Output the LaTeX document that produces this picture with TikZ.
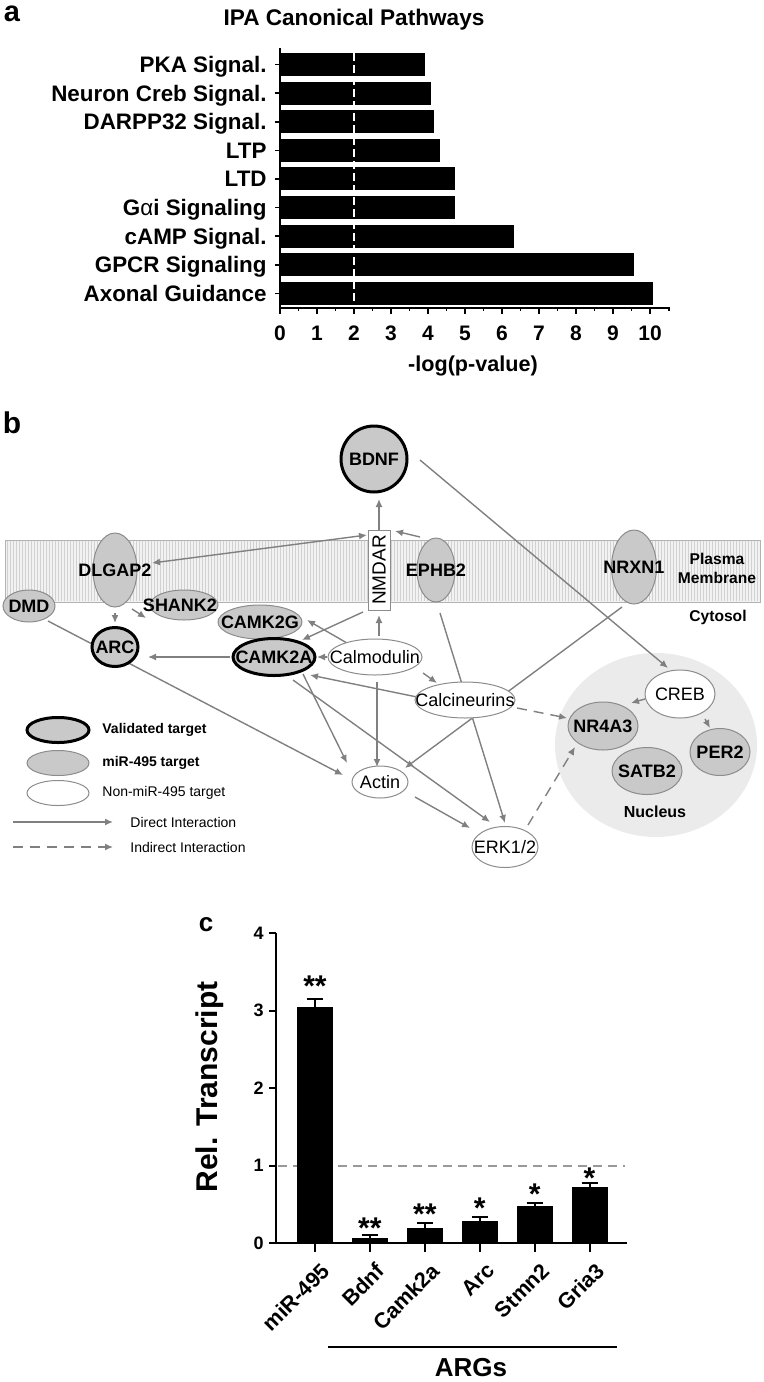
\documentclass[tikz,border=0pt]{standalone}
\usepackage{fontspec}
\setmainfont{Liberation Sans}
\usetikzlibrary{shapes.geometric,arrows.meta,calc}
\pgfdeclarelayer{back}
\pgfdeclarelayer{edge}
\pgfsetlayers{back,edge,main}
\tikzset{
  gene/.style={ellipse, draw=black!45, line width=0.5pt, fill=black!21, inner sep=0pt},
  valid/.style={ellipse, draw=black, line width=1.5pt, fill=black!21, inner sep=0pt},
  plain/.style={ellipse, draw=black!45, line width=0.5pt, fill=white, inner sep=0pt},
  glab/.style={font=\bfseries\fontsize{9}{9}\selectfont, inner sep=0pt},
  plab/.style={font=\fontsize{9}{9}\selectfont, inner sep=0pt},
  conn/.style={draw=black!50, line width=0.7pt, -{Latex[length=4pt,width=3.5pt]}},
  iconn/.style={conn, dash pattern=on 5pt off 3.5pt},
  lgtext/.style={anchor=west, inner sep=0pt, font=\fontsize{7}{7}\selectfont},
  sidetext/.style={inner sep=0pt, font=\bfseries\fontsize{7.8}{7.8}\selectfont},
  panel/.style={inner sep=0pt, font=\bfseries\fontsize{14.5}{14.5}\selectfont},
  rowlab/.style={anchor=base east, inner sep=0pt, font=\bfseries\fontsize{11.2}{11.2}\selectfont},
  ticklab/.style={anchor=base, inner sep=0pt, font=\bfseries\fontsize{10.5}{10.5}\selectfont},
  ctick/.style={anchor=east, inner sep=0pt, font=\bfseries\fontsize{9}{9}\selectfont},
  xlab/.style={anchor=east, rotate=45, inner sep=0pt, font=\bfseries\fontsize{10.8}{10.8}\selectfont},
  star/.style={anchor=base, inner sep=0pt, font=\bfseries\fontsize{15}{15}\selectfont},
}
\begin{document}
\begin{tikzpicture}[x=0.5pt,y=-0.5pt]
\useasboundingbox (0,0) rectangle (764,1382);

% ================= Panel a =================
\node[panel] (pa) at (12,14) {a};
\node[inner sep=0pt, font=\bfseries\fontsize{11.3}{11.3}\selectfont] (atitle) at (354,20) {IPA Canonical Pathways};
\foreach \v/\t [count=\i from 0] in {3.92/PKA Signal., 4.08/Neuron Creb Signal., 4.15/DARPP32 Signal., 4.32/LTP, 4.72/LTD, 4.72/G{\mdseries α}i Signaling, 6.32/cAMP Signal., 9.57/GPCR Signaling, 10.08/Axonal Guidance}{
  \fill[black] (281,{64.5+28.6*\i-11.5}) rectangle ({280+37*\v},{64.5+28.6*\i+11.5});
  \draw[line width=0.8pt] (275,{64.5+28.6*\i}) -- (280,{64.5+28.6*\i});
  \node[rowlab] (arow\i) at (267,{64.5+28.6*\i+8}) {\t};
}
\draw[white, line width=1pt, dash pattern=on 4pt off 2pt] (354,53) -- (354,306);
\draw[line width=1pt] (280,48) -- (280,308) -- (670,308);
\foreach \k in {0,...,10}{
  \draw[line width=0.8pt] ({280+37*\k},308) -- ({280+37*\k},314);
  \node[ticklab] (ax\k) at ({280+37*\k},340.5) {\k};
}
\foreach \k in {0,...,9}{
  \draw[line width=0.8pt] ({280+37*\k+18.5},308) -- ({280+37*\k+18.5},311);
}
\draw[line width=0.8pt] (669,308) -- (669,311);
\node[anchor=base, inner sep=0pt, font=\bfseries\fontsize{10.8}{10.8}\selectfont] (axlab) at (473,371) {-log(p-value)};

% ================= Panel b =================
\node[panel, font=\bfseries\fontsize{15}{15}\selectfont] (pb) at (12,423) {b};

% membrane
\begin{pgfonlayer}{back}
\fill[black!5] (5,540) rectangle (760,602);
\foreach \i in {0,...,250}{
  \draw[black!18, line width=0.3pt] ({7+3*\i},541) -- ({7+3*\i},601);
}
\draw[black!30, line width=0.5pt] (5,540) rectangle (760,602);
\fill[black!8] (656,745) ellipse [x radius=101, y radius=92];
\end{pgfonlayer}
\node[sidetext] (plasma) at (717,559) {Plasma};
\node[sidetext] (membr) at (717,578) {Membrane};
\node[sidetext] (cyto) at (718,617) {Cytosol};
\node[sidetext, font=\bfseries\fontsize{8}{8}\selectfont] (nucl) at (655,812) {Nucleus};

% nodes
\node[valid, minimum width=33pt, minimum height=33pt, label={[glab,name=bdnft]center:BDNF}] (bdnf) at (374,459) {};
\node[gene, minimum width=22pt, minimum height=37pt, label={[glab,name=dlgap2t]center:DLGAP2}] (dlgap2) at (115,570) {};
\node[gene, minimum width=26pt, minimum height=16pt, label={[glab,name=dmdt]center:DMD}] (dmd) at (29,606) {};
\node[gene, minimum width=34pt, minimum height=15pt] (shank2) at (184,605) {};
\node[glab] (shank2t) at (180,605) {SHANK2};
\node[valid, minimum width=23pt, minimum height=19.5pt, label={[glab,name=arct]center:ARC}] (arc) at (115,647) {};
\node[gene, minimum width=42pt, minimum height=17pt, label={[glab,name=camk2gt]center:CAMK2G}] (camk2g) at (260,622) {};
\node[valid, minimum width=41pt, minimum height=18.5pt, label={[glab,name=camk2at]center:CAMK2A}] (camk2a) at (274,657) {};
\node[plain, minimum width=47pt, minimum height=18pt, label={[plab,name=calmt]center:Calmodulin}] (calm) at (375,657) {};
\node[draw=black!45, line width=0.5pt, fill=white, minimum width=11pt, minimum height=40pt, inner sep=0pt] (nmdar) at (379,570) {};
\node[plab, rotate=90, font=\fontsize{9.5}{9.5}\selectfont] (nmdart) at (379,570) {NMDAR};
\node[gene, minimum width=19pt, minimum height=32pt, label={[glab,name=ephb2t]center:EPHB2}] (ephb2) at (436,570) {};
\node[gene, minimum width=22.5pt, minimum height=37pt, label={[glab,name=nrxn1t]center:NRXN1}] (nrxn1) at (634,567) {};
\node[plain, minimum width=50pt, minimum height=18pt, label={[plab,name=calct]center:Calcineurins}] (calc) at (465,700) {};
\node[plain, minimum width=28pt, minimum height=16pt, label={[plab,name=actint]center:Actin}] (actin) at (380,782) {};
\node[plain, minimum width=33pt, minimum height=20.5pt, label={[plab,name=erkt]center:ERK1/2}] (erk) at (505,847) {};
\node[plain, minimum width=35pt, minimum height=24pt, label={[plab,name=crebt]center:CREB}] (creb) at (680,694) {};
\node[gene, minimum width=35pt, minimum height=24pt, label={[glab,name=nr4a3t]center:NR4A3}] (nr4a3) at (603,726) {};
\node[gene, minimum width=30pt, minimum height=23.5pt, label={[glab,name=per2t]center:PER2}] (per2) at (720,752) {};
\node[gene, minimum width=35pt, minimum height=23.5pt, label={[glab,name=satb2t]center:SATB2}] (satb2) at (647,771) {};

% connectors
\begin{pgfonlayer}{edge}
\draw[conn, {Latex[length=4pt,width=3.5pt]}-{Latex[length=4pt,width=3.5pt]}] ($(dlgap2)+(37,-7)$) -- ($(nmdar)+(-12,-35)$);
\draw[conn] ($(nmdar)+(0,-40)$) -- ($(bdnf)+(5,40)$);
\draw[conn] ($(ephb2)+(-16,-33)$) -- ($(nmdar)+(16,-39)$);
\draw[conn] ($(calm)+(4,-21)$) -- ($(nmdar)+(0,45)$);
\draw[conn] ($(nmdar)+(-16,42)$) -- ($(camk2a)+(28,-17)$);
\draw[conn] ($(calm)+(-28,-14)$) -- ($(camk2g)+(47,-2)$);
\draw[conn] ($(calm)+(-48,0)$) -- ($(camk2a)+(43,0)$);
\draw[conn] ($(camk2a)+(-44,0)$) -- ($(arc)+(33,10)$);
\draw[conn] ($(dlgap2)+(0,43)$) -- ($(arc)+(0,-24)$);
\draw[conn] ($(dlgap2)+(17,39)$) -- ($(shank2)+(-38,13)$);
\draw[conn] ($(dmd)+(19,15)$) -- ($(actin)+(-37,-7)$);
\draw[conn] ($(camk2a)+(29,17)$) -- ($(actin)+(-33,-19)$);
\draw[conn] ($(camk2a)+(19,23)$) -- ($(erk)+(-15,-25)$);
\draw[conn] ($(calc)+(-48,-3)$) -- ($(camk2a)+(36,18)$);
\draw[conn] ($(calm)+(2,25)$) -- ($(actin)+(-3,-15)$);
\draw[conn] ($(calm)+(48,16)$) -- ($(calc)+(-28,-17)$);
\draw[conn] ($(ephb2)+(4,43)$) -- ($(erk)+(0,-24)$);
\draw[conn] ($(nrxn1)+(-12,40)$) -- ($(actin)+(25,-14)$);
\draw[conn] ($(actin)+(35,15)$) -- ($(erk)+(-35,-19)$);
\draw[iconn] ($(calc)+(52,8)$) -- ($(nr4a3)+(-36,-8)$);
\draw[iconn] ($(erk)+(23,-22)$) -- ($(nr4a3)+(-28,21)$);
\draw[conn] ($(bdnf)+(46,1)$) -- ($(creb)+(-12,-26)$);
\draw[conn] ($(creb)+(-35,5)$) -- ($(nr4a3)+(28,-23)$);
\draw[conn] ($(creb)+(25,25)$) -- ($(per2)+(-10,-24)$);
\end{pgfonlayer}

% legend
\node[valid, minimum width=31pt, minimum height=12.5pt] (lg1) at (58,730) {};
\node[gene, minimum width=31pt, minimum height=12.5pt] (lg2) at (58,763) {};
\node[plain, minimum width=31pt, minimum height=12.5pt] (lg3) at (58,793) {};
\node[lgtext, font=\bfseries\fontsize{7}{7}\selectfont] (lt1) at (102,730) {Validated target};
\node[lgtext, font=\bfseries\fontsize{7}{7}\selectfont] (lt2) at (102,763) {miR-495 target};
\node[lgtext] (lt3) at (102,793) {Non-miR-495 target};
\coordinate (ld1a) at (13,822);
\coordinate (ld1b) at (113,822);
\coordinate (ld2a) at (13,847);
\coordinate (ld2b) at (113,847);
\draw[conn] (ld1a) -- (ld1b);
\draw[iconn] (ld2a) -- (ld2b);
\node[lgtext] (lt4) at (130,822) {Direct Interaction};
\node[lgtext] (lt5) at (130,847) {Indirect Interaction};

% ================= Panel c =================
\node[panel, font=\bfseries\fontsize{13}{13}\selectfont] (pc) at (206,925) {c};
\node[rotate=90, inner sep=0pt, font=\bfseries\fontsize{15}{15}\selectfont] (ylab) at (210,1087) {Rel. Transcript};
\draw[black!40, line width=1pt, dash pattern=on 4.5pt off 3pt] (278,1166) -- (625,1166);
\foreach \v/\e/\s/\sy/\t [count=\i from 0] in {3.05/3.15/**/980/miR-495, 0.07/0.10/**/1222/Bdnf, 0.20/0.26/**/1208/Camk2a, 0.28/0.33/*/1202/Arc, 0.48/0.52/*/1188/Stmn2, 0.72/0.77/*/1172/Gria3}{
  \pgfmathsetmacro{\cx}{315+54.9*\i}
  \fill[black] ({\cx-18},1243) rectangle ({\cx+18},{1243-77.5*\v});
  \draw[line width=1pt] (\cx,{1243-77.5*\v}) -- (\cx,{1243-77.5*\e});
  \draw[line width=1pt] ({\cx-8},{1243-77.5*\e}) -- ({\cx+8},{1243-77.5*\e});
  \draw[line width=1pt] (\cx,1243) -- (\cx,1252);
  \node[star] (st\i) at (\cx,{\sy+16}) {\s};
  \node[xlab] (xl\i) at ({\cx+11},1267) {\t};
}
\draw[line width=1pt] (276,933) -- (276,1243);
\draw[line width=1.2pt] (269,1243) -- (627,1243);
\foreach \k in {0,...,4}{
  \draw[line width=1pt] (269,{1243-77.5*\k}) -- (276,{1243-77.5*\k});
  \node[ctick] (cy\k) at (264,{1243-77.5*\k}) {\k};
}
\draw[line width=1.2pt] (328,1347) -- (617,1347);
\node[inner sep=0pt, font=\bfseries\fontsize{13}{13}\selectfont] (args) at (471,1368) {ARGs};
\end{tikzpicture}
\end{document}
